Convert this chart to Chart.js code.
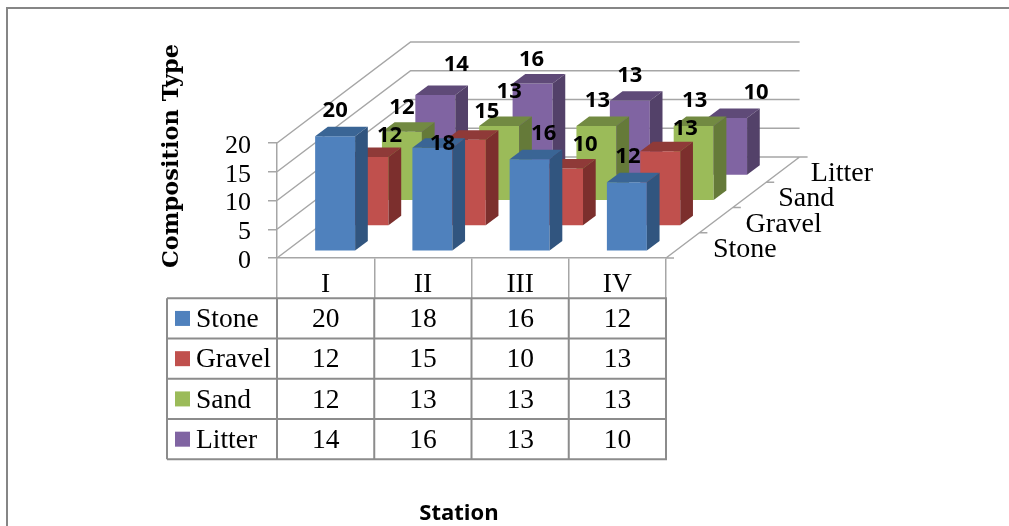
<!DOCTYPE html>
<html>
<head>
<meta charset="utf-8">
<script src="https://cdn.jsdelivr.net/npm/chart.js@4"></script>
<style>
  html, body { margin: 0; padding: 0; background: #fff; }
  canvas { display: block; }
</style>
</head>
<body>
<canvas id="myChart" width="1009" height="526"></canvas>
<script>
const stations = ["I", "II", "III", "IV"];
const stone = [20, 18, 16, 12];
const gravel = [12, 15, 10, 13];
const sand = [12, 13, 13, 13];
const litter = [14, 16, 13, 10];

const seriesNames = ["Stone", "Gravel", "Sand", "Litter"];
const seriesValues = [stone, gravel, sand, litter];
const frontColors = ["#4f81bd", "#c0504d", "#9bbb59", "#8064a2"];
const topColors = ["#3a6595", "#8f3a38", "#728a42", "#5f4a78"];
const sideColors = ["#31557f", "#7c2f2d", "#657a39", "#534169"];

// where each value label sits relative to the top middle of its bar
const labelNudge = [
  [[0, -25], [10, -4], [14, -25], [1, -25]],
  [[21, -21], [21, -28], [22, -24], [25, -22]],
  [[0, -24], [10, -34], [1, -25], [1, -25]],
  [[21, -30], [-1, -24], [0, -25], [29, -25]],
];

const GREY = "#a6a6a6";
const TABLE_GREY = "#8c8c8c";
const SERIF = '"Liberation Serif", serif';

// oblique projection: one series further back moves the bar this far
const stepX = 33.4;
const stepY = 25.25;
const boxX = 12.7;
const boxY = 9.5;
const startX = 9.5;
const startY = 6.8;
const rowTop = 298.3;
const rowHeight = 40.25;

const box3d = {
  id: "box3d",
  beforeDatasetsDraw(chart) {
    const { ctx, scales } = chart;
    const x = scales.x;
    const y = scales.y;
    const backX = stepX * 4;
    const backY = stepY * 4;
    ctx.save();
    ctx.strokeStyle = GREY;
    ctx.lineWidth = 1.5;
    ctx.beginPath();
    y.ticks.forEach((t, i) => {
      const py = y.getPixelForTick(i);
      ctx.moveTo(x.left, py);
      ctx.lineTo(x.left + backX, py - backY);
      ctx.lineTo(x.right + backX, py - backY);
    });
    // right edge of the floor with its depth ticks
    ctx.moveTo(x.right, y.bottom);
    ctx.lineTo(x.right + backX, y.bottom - backY);
    for (let d = 0; d <= 4; d++) {
      const px = x.right + stepX * d;
      const py = y.bottom - stepY * d;
      ctx.moveTo(px, py);
      ctx.lineTo(px + 8, py);
    }
    ctx.stroke();

    ctx.fillStyle = "#000";
    ctx.font = "28px " + SERIF;
    ctx.textAlign = "left";
    ctx.textBaseline = "middle";
    seriesNames.forEach((name, d) => {
      ctx.fillText(name, x.right + 47 + 32.6 * d, y.bottom - 8.5 - stepY * d);
    });
    ctx.restore();
  },
  beforeDatasetDraw(chart, args) {
    const d = args.index;
    chart.ctx.save();
    chart.ctx.translate(startX + stepX * d, -startY - stepY * d);
  },
  afterDatasetDraw(chart, args) {
    const { ctx } = chart;
    const d = args.index;
    args.meta.data.forEach((bar) => {
      const left = bar.x - bar.width / 2;
      const right = bar.x + bar.width / 2;
      ctx.fillStyle = topColors[d];
      ctx.beginPath();
      ctx.moveTo(left, bar.y);
      ctx.lineTo(left + boxX, bar.y - boxY);
      ctx.lineTo(right + boxX, bar.y - boxY);
      ctx.lineTo(right, bar.y);
      ctx.closePath();
      ctx.fill();
      ctx.fillStyle = sideColors[d];
      ctx.beginPath();
      ctx.moveTo(right, bar.y);
      ctx.lineTo(right + boxX, bar.y - boxY);
      ctx.lineTo(right + boxX, bar.base - boxY);
      ctx.lineTo(right, bar.base);
      ctx.closePath();
      ctx.fill();
    });
    ctx.restore();
  },
  afterDatasetsDraw(chart) {
    const { ctx } = chart;
    ctx.save();
    ctx.fillStyle = "#000";
    ctx.font = 'bold 22px "Open Sans", sans-serif';
    ctx.textAlign = "center";
    ctx.textBaseline = "middle";
    chart.data.datasets.forEach((ds, d) => {
      chart.getDatasetMeta(d).data.forEach((bar, i) => {
        const nudge = labelNudge[d][i];
        const px = bar.x + startX + stepX * d + nudge[0];
        const py = bar.y - startY - stepY * d + nudge[1];
        ctx.fillText(String(ds.data[i]), px, py);
      });
    });
    ctx.restore();
  },
  afterDraw(chart) {
    const { ctx, scales } = chart;
    const x = scales.x;
    const half = x.width / stations.length / 2;
    const tableLeft = 167;
    const tableRight = x.right + 1;
    const tableBottom = rowTop + rowHeight * seriesNames.length;
    ctx.save();

    // data table under the plot
    ctx.strokeStyle = TABLE_GREY;
    ctx.lineWidth = 2;
    ctx.beginPath();
    seriesNames.forEach((name, r) => {
      ctx.moveTo(tableLeft, rowTop + rowHeight * r);
      ctx.lineTo(tableRight, rowTop + rowHeight * r);
    });
    ctx.moveTo(tableLeft, tableBottom);
    ctx.lineTo(tableRight, tableBottom);
    ctx.moveTo(tableLeft, rowTop);
    ctx.lineTo(tableLeft, tableBottom);
    for (let i = 0; i <= stations.length; i++) {
      const px = x.left + half * 2 * i;
      ctx.moveTo(px, rowTop);
      ctx.lineTo(px, tableBottom);
    }
    ctx.stroke();

    ctx.font = "27.5px " + SERIF;
    ctx.textBaseline = "middle";
    seriesNames.forEach((name, r) => {
      const cy = rowTop + rowHeight * (r + 0.5);
      ctx.fillStyle = frontColors[r];
      ctx.fillRect(175, cy - 7.5, 15, 15);
      ctx.fillStyle = "#000";
      ctx.textAlign = "left";
      ctx.fillText(name, 196, cy + 1.5);
      ctx.textAlign = "center";
      seriesValues[r].forEach((v, i) => {
        ctx.fillText(String(v), x.getPixelForValue(i), cy + 1.5);
      });
    });

    // axis titles
    ctx.font = 'bold 22.5px "DejaVu Serif", serif';
    ctx.save();
    ctx.translate(172, 156);
    ctx.rotate(-Math.PI / 2);
    ctx.textAlign = "center";
    ctx.fillText("Composition Type", 0, 0);
    ctx.restore();
    ctx.font = 'bold 22px "Open Sans", sans-serif';
    ctx.textAlign = "center";
    ctx.fillText("Station", 459, 514);

    // outer frame, open at the bottom and on the right
    ctx.strokeStyle = "#868686";
    ctx.lineWidth = 2;
    ctx.beginPath();
    ctx.moveTo(7, 526);
    ctx.lineTo(7, 8);
    ctx.lineTo(1009, 8);
    ctx.stroke();
    ctx.restore();
  },
};

const datasets = seriesNames.map((name, d) => ({
  label: name,
  data: seriesValues[d],
  backgroundColor: frontColors[d],
  barPercentage: 0.411,
  categoryPercentage: 1,
  clip: false,
}));

new Chart(document.getElementById("myChart").getContext("2d"), {
  type: "bar",
  data: { labels: stations, datasets: datasets },
  options: {
    responsive: false,
    animation: false,
    grouped: false,
    layout: { padding: { left: 0, top: 143, right: 343, bottom: 0 } },
    plugins: {
      legend: { display: false },
      title: { display: false },
      tooltip: { enabled: false },
    },
    scales: {
      x: {
        offset: true,
        afterFit(scale) { scale.height = 268; },
        border: { color: GREY, width: 1.5 },
        grid: { drawOnChartArea: false, color: GREY, lineWidth: 1.5, tickLength: 40, offset: true },
        ticks: { color: "#000", font: { family: "Liberation Serif", size: 27.5 }, padding: -30, maxRotation: 0 },
      },
      y: {
        min: 0,
        max: 20,
        afterFit(scale) { scale.width = 277; },
        border: { color: GREY, width: 1.5 },
        grid: { drawOnChartArea: false, color: GREY, lineWidth: 1.5, tickLength: 9 },
        ticks: { stepSize: 5, autoSkip: false, color: "#000", font: { family: "Liberation Serif", size: 26 }, padding: 17, labelOffset: 3 },
      },
    },
  },
  plugins: [box3d],
});
</script>
</body>
</html>
